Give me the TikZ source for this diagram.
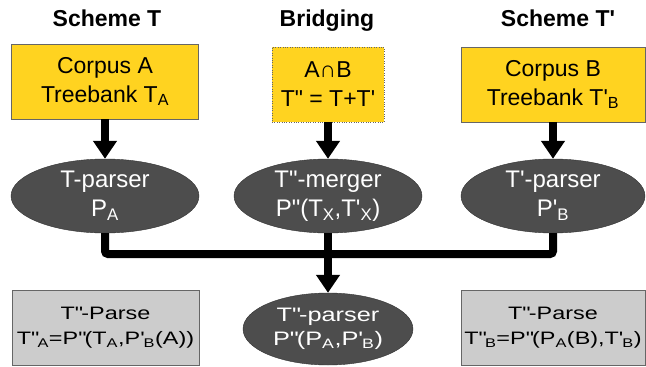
\documentclass[tikz,border=0pt]{standalone}
\usepackage{fontspec}
\setmainfont{Liberation Sans}
\newfontfamily\squat[FakeStretch=1.3]{Liberation Sans}
\usetikzlibrary{shapes,arrows.meta,positioning}

\definecolor{corpusyellow}{RGB}{255,211,32}
\definecolor{parsegray}{RGB}{204,204,204}
\definecolor{parserdark}{RGB}{77,77,77}

\newcommand{\tick}{\textquotesingle}
\newcommand{\dtk}{\textquotedbl}
\newcommand{\dn}[1]{\textsubscript{#1}}

\begin{document}
\begin{tikzpicture}[x=1pt,y=-1pt,
    title/.style={font=\fontsize{23}{28}\selectfont\bfseries,anchor=base},
    corpus/.style={draw=gray!80!black,fill=corpusyellow,minimum height=75pt,inner sep=0pt,align=center,font=\fontsize{23}{29}\selectfont},
    parser/.style={ellipse,draw=black!80,fill=parserdark,text=white,minimum height=74pt,inner sep=0pt,align=center,font=\fontsize{24}{29}\selectfont},
    parse/.style={draw=gray!80!black,fill=parsegray,minimum height=75pt,inner sep=0pt,align=center,font=\squat\fontsize{18}{25}\selectfont},
    link/.style={line width=8pt,rounded corners=3pt},
    arr/.style={link,-{Triangle[width=23pt,length=18pt]}}]
    \useasboundingbox (0,0) rectangle (646,367);

    \node[title] (titleA) at (107,26) {Scheme T};
    \node[title] (titleX) at (327,26) {Bridging};
    \node[title] (titleB) at (558,26) {Scheme T\tick};

    \node[corpus,minimum width=187pt] (boxA) at (105,81.5) {Corpus A\\Treebank T\dn{A}};
    \node[corpus,minimum width=112pt,dotted] (boxX) at (328,84.5) {A∩B\\T\dtk{} = T+T\tick};
    \node[corpus,minimum width=184pt] (boxB) at (553,84.5) {Corpus B\\Treebank T\tick\dn{B}};

    \node[parser,minimum width=188pt] (parA) at (105,196) {T-parser\\P\dn{A}};
    \node[parser,minimum width=188pt] (mergeX) at (328,196) {T\dtk-merger\\P\dtk(T\dn{X},T\tick\dn{X})};
    \node[parser,minimum width=184pt] (parB) at (553,196) {T\tick-parser\\P\tick\dn{B}};

    \node[parse,minimum width=187pt] (outA) at (105.5,327.5) {T\dtk-Parse\\T\dtk\dn{A}=P\dtk(T\dn{A},P\tick\dn{B}(A))};
    \node[parser,minimum width=170pt,minimum height=72pt,font=\squat\fontsize{19.5}{24}\selectfont] (parAB) at (328,329) {T\dtk-parser\\P\dtk(P\dn{A},P\tick\dn{B})};
    \node[parse,minimum width=184pt] (outB) at (553,327.5) {T\dtk-Parse\\T\dtk\dn{B}=P\dtk(P\dn{A}(B),T\tick\dn{B})};

    \foreach \src/\dst in {boxA/parA, boxX/mergeX, boxB/parB}
        \draw[arr] (\src) -- (\dst);
    \coordinate (join) at (328,254);
    \draw[link] (parA.south) |- (join) -| (parB.south);
    \draw[arr] (mergeX) -- (parAB);
\end{tikzpicture}
\end{document}
